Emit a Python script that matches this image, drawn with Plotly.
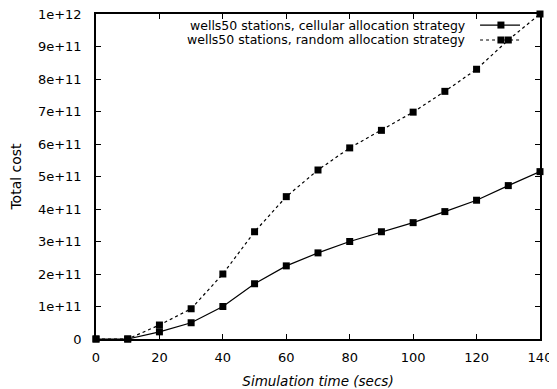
import plotly.graph_objects as go

time_secs = [0, 10, 20, 30, 40, 50, 60, 70, 80, 90, 100, 110, 120, 130, 140]
cellular_cost = [0, 0, 2.2e10, 5.0e10, 1.0e11, 1.7e11, 2.25e11, 2.65e11, 3.0e11,
                 3.3e11, 3.58e11, 3.92e11, 4.27e11, 4.72e11, 5.15e11]
random_cost = [0, 0, 4.3e10, 9.3e10, 2.0e11, 3.3e11, 4.38e11, 5.2e11, 5.88e11,
               6.42e11, 6.98e11, 7.62e11, 8.3e11, 9.2e11, 1.0e12]

y_tickvals = [0, 1e11, 2e11, 3e11, 4e11, 5e11, 6e11, 7e11, 8e11, 9e11, 1e12]
y_ticktext = ["0", "1e+11", "2e+11", "3e+11", "4e+11", "5e+11", "6e+11",
              "7e+11", "8e+11", "9e+11", "1e+12"]
x_tickvals = [0, 20, 40, 60, 80, 100, 120, 140]

legend_labels = ["wells50 stations, cellular allocation strategy",
                 "wells50 stations, random allocation strategy"]

FONT = "DejaVu Sans"

fig = go.Figure()
fig.add_trace(go.Scatter(
    x=time_secs, y=cellular_cost, mode="lines+markers",
    line=dict(color="black", width=1.2),
    marker=dict(symbol="square", size=7, color="black"),
    name=legend_labels[0], showlegend=False, cliponaxis=False))
fig.add_trace(go.Scatter(
    x=time_secs, y=random_cost, mode="lines+markers",
    line=dict(color="black", width=1.2, dash="dot"),
    marker=dict(symbol="square", size=7, color="black"),
    name=legend_labels[1], showlegend=False, cliponaxis=False))

axis_common = dict(showgrid=False, zeroline=False, showline=True, linecolor="black",
                   linewidth=1.5, mirror="ticks", ticks="inside", ticklen=5,
                   tickcolor="black", tickwidth=1.2, automargin=False,
                   ticklabeloverflow="allow",
                   tickfont=dict(family=FONT, size=13, color="black"))

fig.update_xaxes(range=[0, 140], tickvals=x_tickvals,
                 title=dict(text="<i>Simulation time (secs)</i>",
                            font=dict(family=FONT, size=13.5, color="black")),
                 ticklabelstandoff=6, **axis_common)
fig.update_yaxes(range=[0, 1e12], tickvals=y_tickvals, ticktext=y_ticktext,
                 title=dict(text="Total cost",
                            font=dict(family=FONT, size=14, color="black")),
                 ticklabelstandoff=10, **axis_common)

# legend (text on left, sample on right, as in the original)
rows_y = [0.966, 0.920]
dashes = ["solid", "dot"]
for lbl, yy, dsh in zip(legend_labels, rows_y, dashes):
    fig.add_annotation(xref="paper", yref="paper", x=0.838, y=yy, text=lbl,
                       showarrow=False, xanchor="right", yanchor="middle",
                       font=dict(family=FONT, size=12.5, color="black"))
    fig.add_shape(type="line", xref="paper", yref="paper", x0=0.865, x1=0.955,
                  y0=yy, y1=yy, line=dict(color="black", width=1.2, dash=dsh))
    fig.add_shape(type="rect", xref="paper", yref="paper", xsizemode="pixel",
                  ysizemode="pixel", xanchor=0.912, yanchor=yy, x0=-3.5, x1=3.5,
                  y0=-3.5, y1=3.5, fillcolor="black", line=dict(width=0))

# page body has an 8px margin, so the figure is sized to fit the 557x389 window
fig.update_layout(width=549, height=381, margin=dict(l=88, r=17, t=6, b=50),
                  plot_bgcolor="white", paper_bgcolor="white",
                  font=dict(family=FONT, color="black"))

fig.write_html("out.html")
